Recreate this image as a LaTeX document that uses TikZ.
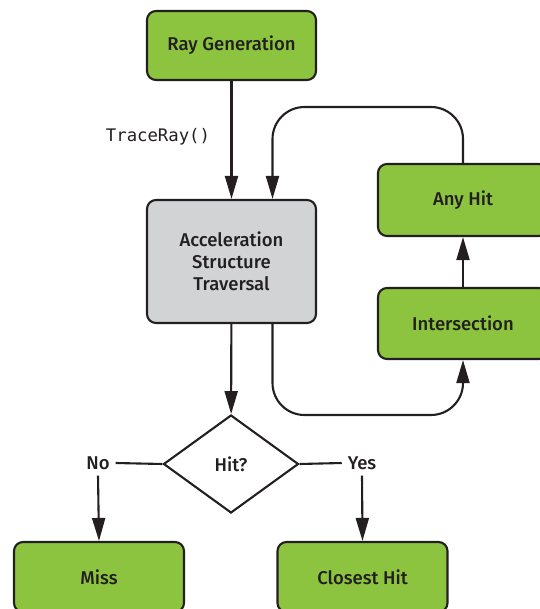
\documentclass[tikz,border=0pt]{standalone}
\usepackage{fontspec}
\setmainfont{Fira Sans}[UprightFont=* Medium]
\setmonofont{DejaVu Sans Mono}
\usetikzlibrary{arrows.meta,shapes.geometric}
\definecolor{boxgreen}{HTML}{8CC43F}
\definecolor{boxgray}{HTML}{D1D3D4}
\definecolor{ink}{HTML}{231F20}
\begin{document}
\begin{tikzpicture}[x=1pt,y=-1pt,
  line width=2.1pt, draw=ink, text=ink,
  every node/.style={font=\fontsize{18.5}{22}\selectfont},
  gbox/.style={draw=ink, fill=boxgreen, rounded corners=9pt, minimum width=170pt, align=center, inner sep=0pt},
  graybox/.style={draw=ink, fill=boxgray, rounded corners=9pt, minimum width=169pt, minimum height=123pt, align=center, inner sep=0pt},
  arr/.style={-{Triangle[length=23pt,width=13pt]}},
  lbl/.style={inner sep=7pt}
]
\useasboundingbox (0,0) rectangle (539,609);
\node[gbox, minimum width=169pt, minimum height=69pt] (rg) at (231.5,45.5) {Ray Generation};
\node[graybox] (acc) at (231.5,261.5) {Acceleration\\Structure\\Traversal};
\node[gbox, minimum height=72pt] (ah) at (463,200) {Any Hit};
\node[gbox, minimum height=71pt] (int) at (463,323.5) {Intersection};
\node[draw=ink, diamond, minimum width=135pt, minimum height=98pt, inner sep=0pt, fill=white] (hit) at (231,464) {Hit?};
\node[lbl, inner sep=5pt] (no) at (98,463) {No};
\node[lbl, inner sep=5pt] (yes) at (362,463) {Yes};
\node[gbox, minimum height=70pt] (miss) at (99,577) {Miss};
\node[gbox, minimum height=70pt] (ch) at (362.5,577) {Closest Hit};
\node (tr) at (158,137) {\fontsize{17.3}{20}\ttfamily TraceRay()};

\coordinate (top) at (272.5,107);
\coordinate (bot) at (272.5,415);

\draw[arr] (rg) -- (acc);
\draw[arr] (acc) -- (hit);
\draw[arr] (int) -- (ah);
\draw[arr, rounded corners=32pt] (ah.north) |- (top) -- ([xshift=41pt]acc.north);
\draw[arr, rounded corners=32pt] ([xshift=41pt]acc.south) -- (bot) -| (int.south);
\draw (hit.west) -- (no.east);
\draw (hit.east) -- (yes.west);
\draw[arr] (no.south) -- (miss.north);
\draw[arr] (yes.south) -- (ch.north);
\end{tikzpicture}
\end{document}
